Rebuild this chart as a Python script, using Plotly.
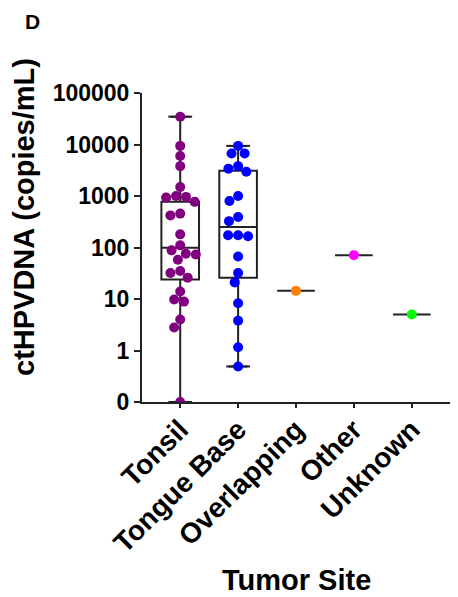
import numpy as np
import plotly.graph_objects as go

# ---------------- data ----------------
categories = ["Tonsil", "Tongue Base", "Overlapping", "Other", "Unknown"]
tonsil = [34700, 9400, 6000, 3800, 1500, 1000, 960, 930, 770, 455, 420, 180, 110,
          88, 76, 73, 58, 35, 32, 26, 14, 9.8, 8.9, 4.0, 2.8, 0]
tongue_base = [9400, 6700, 6700, 3800, 3400, 2950, 1000, 800, 390, 325, 173, 173,
               165, 67, 32, 21, 8.3, 3.8, 1.16, 0.49]
overlapping = [14.4]
other = [71]
unknown = [5.0]
q1 = [24, 26, 14.4, 71, 5.0]
median = [99, 249, 14.4, 71, 5.0]
q3 = [770, 3100, 14.4, 71, 5.0]
colors = ["#800080", "#0000FF", "#FF7F00", "#FF00FF", "#00FF00"]
ytick_vals = [0, 1, 10, 100, 1000, 10000, 100000]
ytick_text = ["0", "1", "10", "100", "1000", "10000", "100000"]

groups = [tonsil, tongue_base, overlapping, other, unknown]

# ---------------- layout constants ----------------
OFF = 8                      # page body margin offset
W, H = 458 - OFF, 597 - OFF
PL, PR, PT, PB = 142, 450, 93, 402   # plot box in page pixels
ML, MR, MT, MB = PL - OFF, W - (PR - OFF), PT - OFF, H - (PB - OFF)
XR = [-0.66, 4.66]
YR = [-1, 5]          # log10 range; 0 is drawn one decade below 1 (axis break)
ZERO_AS = 0.1
FONT = "Liberation Sans, Arial, sans-serif"
AX = "#222222"

pw, ph = W - ML - MR, H - MT - MB
px_unit = pw / (XR[1] - XR[0])
px_dec = ph / (YR[1] - YR[0])
DOT = 10


def disp(v):
    return [ZERO_AS if x == 0 else x for x in v]


def swarm(vals, d):
    ys = np.log10(np.array(vals, dtype=float)) * px_dec
    order = np.argsort(-ys, kind="stable")
    placed, offs = [], np.zeros(len(ys))
    for i in order:
        y = ys[i]
        cands, blocks = [0.0], []
        for xo, yo in placed:
            dy = abs(y - yo)
            if dy < d:
                dx = np.sqrt(d * d - dy * dy)
                blocks.append((xo - dx, xo + dx))
                cands += [xo - dx, xo + dx]
        cands.sort(key=lambda c: (abs(c), c))
        for c in cands:
            if all(not (lo + 1e-6 < c < hi - 1e-6) for lo, hi in blocks):
                offs[i] = c
                break
        placed.append((offs[i], y))
    return offs / px_unit


fig = go.Figure()

lo = [min(disp(g)) for g in groups]
hi = [max(disp(g)) for g in groups]
xs = list(range(len(categories)))

fig.add_trace(go.Box(
    x=xs, q1=q1, median=median, q3=q3, lowerfence=lo, upperfence=hi,
    width=0.65, line=dict(color=AX, width=2), fillcolor="rgba(0,0,0,0)",
    boxpoints=False, showlegend=False, hoverinfo="skip"))

# whisker caps for multi-point groups
cap_x = [i for i, g in enumerate(groups) if len(g) > 1]
fig.add_trace(go.Scatter(
    x=cap_x + cap_x, y=[hi[i] for i in cap_x] + [lo[i] for i in cap_x],
    mode="markers", marker=dict(symbol="line-ew", size=17,
                                line=dict(color=AX, width=2)),
    showlegend=False, hoverinfo="skip"))

for i, g in enumerate(groups):
    yv = disp(g)
    off = swarm(yv, DOT)
    fig.add_trace(go.Scatter(
        x=[i + o for o in off], y=yv, mode="markers",
        marker=dict(size=DOT, color=colors[i], line=dict(width=0)),
        showlegend=False, name=categories[i]))

fig.update_layout(
    width=W, height=H, margin=dict(l=ML, r=MR, t=MT, b=MB),
    paper_bgcolor="white", plot_bgcolor="white",
    font=dict(family=FONT, color="black", weight="bold"),
    xaxis=dict(range=XR, tickvals=xs, ticktext=categories, tickangle=-45,
               showgrid=False, zeroline=False, showline=True, linecolor=AX,
               linewidth=2, ticks="outside", ticklen=4, tickwidth=2,
               ticklabelstandoff=-6,
               tickcolor=AX, tickfont=dict(size=28, family=FONT, weight="bold")),
    yaxis=dict(type="log", range=YR, tickvals=disp(ytick_vals), ticktext=ytick_text,
               showgrid=False, zeroline=False, showline=True, linecolor=AX,
               linewidth=2, ticks="outside", ticklen=6, tickwidth=2,
               tickcolor=AX, tickfont=dict(size=23, family=FONT, weight="bold")),
)


def pxx(x):
    return (x - PL) / (PR - PL)


def pxy(y):
    return (PB - y) / (PB - PT)


fig.add_annotation(text="ctHPVDNA (copies/mL)", textangle=-90, xref="paper", yref="paper",
                   x=pxx(24), y=pxy(217), xanchor="center", yanchor="middle",
                   showarrow=False, font=dict(size=29, family=FONT, weight="bold"))
fig.add_annotation(text="Tumor Site", xref="paper", yref="paper",
                   x=pxx(296), y=pxy(580), xanchor="center", yanchor="middle",
                   showarrow=False, font=dict(size=29, family=FONT, weight="bold"))
fig.add_annotation(text="D", xref="paper", yref="paper",
                   x=pxx(32), y=pxy(22), xanchor="center", yanchor="middle",
                   showarrow=False, font=dict(size=21, family=FONT, weight="bold"))

fig.write_html("out.html")
